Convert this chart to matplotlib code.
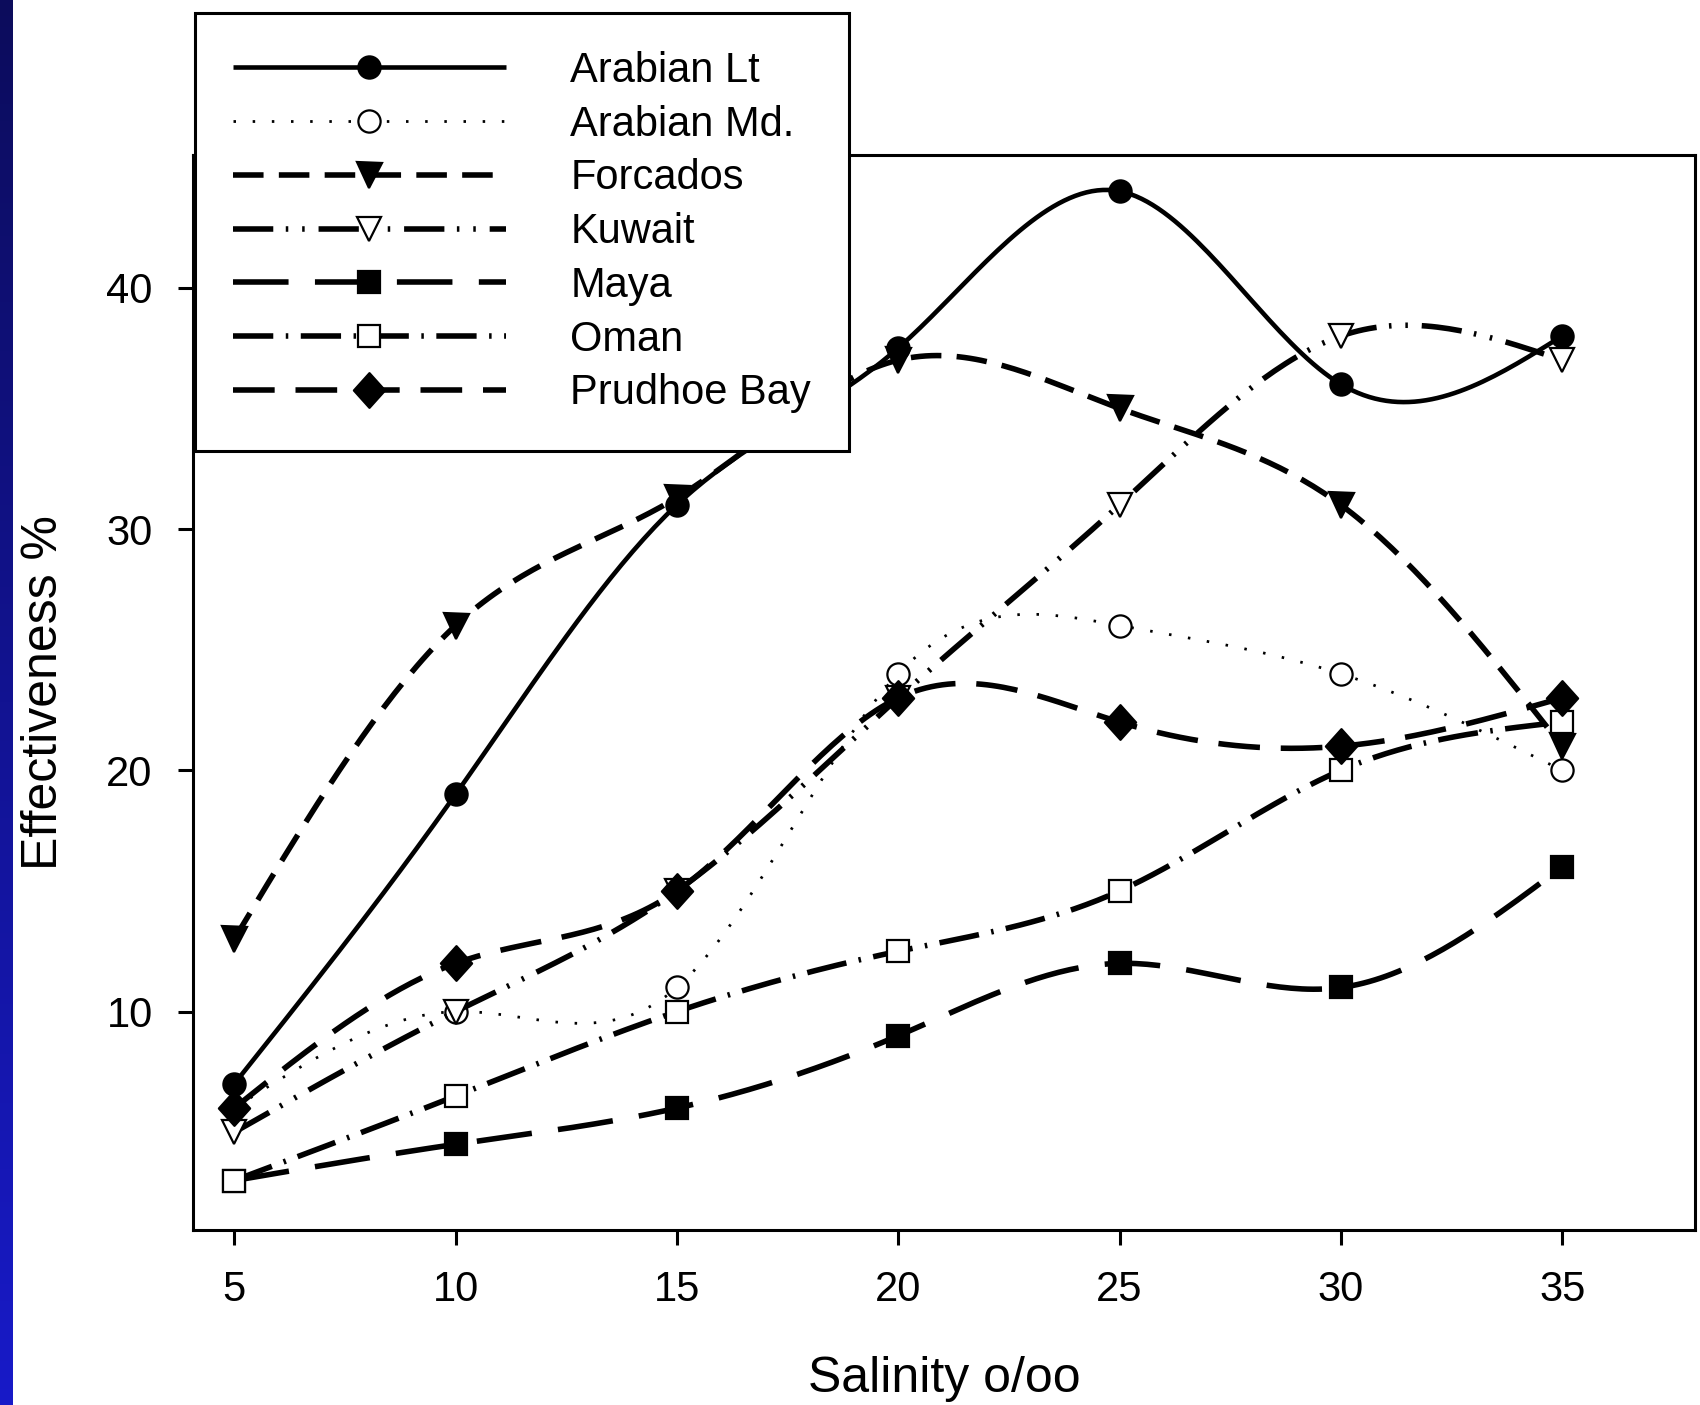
import numpy as np
import matplotlib
matplotlib.use("Agg")
import matplotlib.pyplot as plt
from matplotlib.lines import Line2D
from matplotlib.path import Path

plt.rcParams['font.family'] = ['Liberation Sans', 'DejaVu Sans']
plt.rcParams['lines.scale_dashes'] = False

# salinity (o/oo) and effectiveness (%) per crude oil
salinity = [5, 10, 15, 20, 25, 30, 35]
arabian_lt = [7, 19, 31, 37.5, 44, 36, 38]
arabian_md = [6, 10, 11, 24, 26, 24, 20]
forcados = [13, 26, 31.3, 37, 35, 31, 21]
kuwait = [5, 10, 15, 23, 31, 38, 37]
maya = [3, 4.5, 6, 9, 12, 11, 16]
oman = [3, 6.5, 10, 12.5, 15, 20, 22]
prudhoe_bay = [6, 12, 15, 23, 22, 21, 23]

names = ['Arabian Lt', 'Arabian Md.', 'Forcados', 'Kuwait', 'Maya', 'Oman', 'Prudhoe Bay']
series = [arabian_lt, arabian_md, forcados, kuwait, maya, oman, prudhoe_bay]

x_ticks = [5, 10, 15, 20, 25, 30, 35]
y_ticks = [10, 20, 30, 40]

# tall diamond marker
diamond = Path([(0, 1), (0.9, 0), (0, -1), (-0.9, 0), (0, 1)],
               [Path.MOVETO, Path.LINETO, Path.LINETO, Path.LINETO, Path.CLOSEPOLY])

styles = [
    dict(ls='-', lw=3.3, marker='o', ms=16, mfc='black'),
    dict(ls=(0, (1.8, 12)), lw=2.0, marker='o', ms=16, mfc='white'),
    dict(ls=(0, (22, 11)), lw=4.0, marker='v', ms=18, mfc='black'),
    dict(ls=(0, (29, 9, 1.8, 10, 1.8, 10)), lw=4.0, marker='v', ms=17, mfc='white'),
    dict(ls=(0, (40, 19)), lw=4.0, marker='s', ms=16, mfc='black'),
    dict(ls=(0, (29, 9, 1.8, 9)), lw=4.0, marker='s', ms=16, mfc='white'),
    dict(ls=(0, (30, 15)), lw=4.0, marker=diamond, ms=25, mfc='black'),
]


def spline_curve(x, y, n=40):
    """Natural cubic spline through the points, for a smooth connecting line."""
    x = np.asarray(x, float)
    y = np.asarray(y, float)
    k = len(x)
    h = np.diff(x)
    A = np.zeros((k, k))
    r = np.zeros(k)
    A[0, 0] = A[-1, -1] = 1
    for i in range(1, k - 1):
        A[i, i - 1] = h[i - 1]
        A[i, i] = 2 * (h[i - 1] + h[i])
        A[i, i + 1] = h[i]
        r[i] = 3 * ((y[i + 1] - y[i]) / h[i] - (y[i] - y[i - 1]) / h[i - 1])
    c = np.linalg.solve(A, r)
    xs, ys = [], []
    for i in range(k - 1):
        b = (y[i + 1] - y[i]) / h[i] - h[i] * (2 * c[i] + c[i + 1]) / 3
        d = (c[i + 1] - c[i]) / (3 * h[i])
        t = np.linspace(0, h[i], n, endpoint=(i == k - 2))
        xs.append(x[i] + t)
        ys.append(y[i] + b * t + c[i] * t ** 2 + d * t ** 3)
    return np.concatenate(xs), np.concatenate(ys)


fig = plt.figure(figsize=(17, 14.05), dpi=100)
fig.patch.set_facecolor('white')

# blue strip on the left edge
strip = fig.add_axes([0, 0, 13 / 1700, 1])
grad = np.linspace(0, 1, 256).reshape(-1, 1)
top = np.array([12, 12, 92]) / 255
bottom = np.array([24, 26, 200]) / 255
img = top + (bottom - top) * grad[:, :, None]
strip.imshow(img, aspect='auto', extent=[0, 1, 0, 1], origin='upper')
strip.axis('off')

ax = fig.add_axes([193 / 1700, 1 - 1230 / 1405, (1695 - 193) / 1700, (1230 - 155) / 1405])

handles = []
for i, (name, vals, st) in enumerate(zip(names, series, styles)):
    xs, ys = spline_curve(salinity, vals)
    ax.plot(xs, ys, color='black', ls=st['ls'], lw=st['lw'], zorder=3 + 2 * i,
            solid_capstyle='butt', dash_capstyle='butt')
    ax.plot(salinity, vals, ls='none', marker=st['marker'], ms=st['ms'],
            mfc=st['mfc'], mec='black', mew=1.6, zorder=4 + 2 * i)
    handles.append(Line2D([], [], color='black', ls=st['ls'], lw=st['lw'],
                          marker=st['marker'], ms=st['ms'], mfc=st['mfc'],
                          mec='black', mew=1.6, label=name,
                          solid_capstyle='butt', dash_capstyle='butt'))

ax.set_xlim(4.07, 38.0)
ax.set_ylim(0.95, 45.5)
ax.set_xticks(x_ticks)
ax.set_yticks(y_ticks)
ax.tick_params(direction='out', length=11, width=2.2, labelsize=30, pad=18)
for sp in ax.spines.values():
    sp.set_linewidth(2.2)

ax.set_xlabel('Salinity o/oo', fontsize=36, labelpad=33)
ax.set_ylabel('Effectiveness %', fontsize=36, labelpad=28)

leg = fig.legend(handles=handles, loc='upper left',
                 bbox_to_anchor=(195 / 1700, 1 - 13 / 1405),
                 fontsize=30, frameon=True, fancybox=False, shadow=False,
                 framealpha=1, edgecolor='black', numpoints=1,
                 handlelength=6.55, handletextpad=1.55, borderpad=0.91,
                 labelspacing=0.33, borderaxespad=0)
leg.get_frame().set_linewidth(2.2)

fig.savefig('out.png', dpi=100, facecolor='white')
